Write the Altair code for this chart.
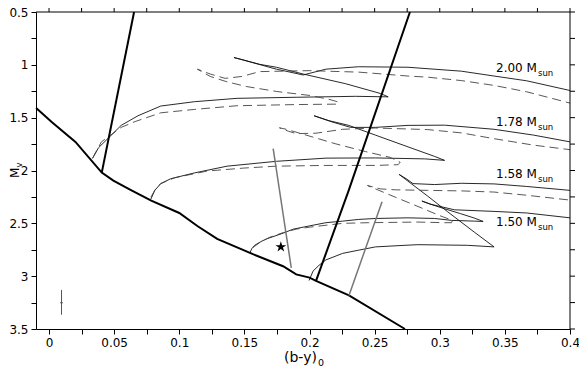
import altair as alt
import pandas as pd

# ---------------- data ----------------
T200s_x = [0.0334, 0.038, 0.0456, 0.0554, 0.0683, 0.0858, 0.1116, 0.1443, 0.1898, 0.2354, 0.2604, 0.2544, 0.2278, 0.1951, 0.1746, 0.1617, 0.1481, 0.142, 0.1557, 0.1746, 0.1951, 0.2126, 0.2377, 0.2756, 0.3166, 0.3417, 0.3667, 0.4]
T200s_y = [1.885, 1.784, 1.693, 1.573, 1.482, 1.39, 1.349, 1.317, 1.307, 1.298, 1.303, 1.271, 1.179, 1.087, 1.023, 0.995, 0.95, 0.931, 0.977, 1.041, 1.096, 1.041, 1.018, 1.023, 1.06, 1.106, 1.151, 1.243]

T178s_x = [0.0782, 0.0812, 0.0858, 0.0934, 0.1116, 0.1367, 0.1746, 0.2126, 0.2506, 0.2885, 0.3037, 0.2961, 0.2733, 0.2506, 0.2301, 0.2149, 0.2035, 0.2164, 0.2316, 0.2506, 0.2756, 0.3037, 0.3417, 0.372, 0.4]
T178s_y = [2.271, 2.188, 2.124, 2.078, 2.023, 1.959, 1.913, 1.883, 1.881, 1.89, 1.904, 1.867, 1.766, 1.665, 1.573, 1.528, 1.482, 1.537, 1.592, 1.592, 1.573, 1.571, 1.61, 1.665, 1.729]

T158s_x = [0.1541, 0.1557, 0.1579, 0.1625, 0.167, 0.18, 0.1875, 0.1997, 0.2126, 0.2255, 0.2377, 0.2506, 0.2756, 0.2961, 0.309, 0.3265, 0.3333, 0.3265, 0.3159, 0.3037, 0.2946, 0.2863, 0.2923, 0.2984, 0.3113, 0.3417, 0.3667, 0.4]
T158s_y = [2.784, 2.739, 2.708, 2.674, 2.647, 2.592, 2.555, 2.525, 2.494, 2.479, 2.463, 2.454, 2.448, 2.454, 2.472, 2.479, 2.482, 2.45, 2.408, 2.362, 2.326, 2.289, 2.317, 2.335, 2.372, 2.387, 2.402, 2.448]

T150s_x = [0.1997, 0.2027, 0.2073, 0.2126, 0.2255, 0.2377, 0.2506, 0.2733, 0.2832, 0.3212, 0.3417, 0.3265, 0.306, 0.2908, 0.2771, 0.2688, 0.2749, 0.2794, 0.2961, 0.3166, 0.3417, 0.3667, 0.4]
T150s_y = [3.041, 2.952, 2.897, 2.846, 2.784, 2.754, 2.723, 2.708, 2.702, 2.708, 2.723, 2.583, 2.39, 2.243, 2.115, 2.037, 2.083, 2.124, 2.133, 2.121, 2.127, 2.151, 2.188]

T200d_x = [0.0334, 0.0402, 0.0554, 0.0661, 0.0858, 0.1116, 0.1443, 0.1898, 0.2202, 0.2225, 0.2149, 0.1997, 0.1746, 0.1519, 0.1367, 0.1238, 0.1139, 0.1238, 0.1352, 0.1481, 0.1617, 0.1997, 0.2377, 0.2756, 0.2908, 0.3166, 0.3417, 0.3667, 0.4]
T200d_y = [1.885, 1.729, 1.592, 1.537, 1.454, 1.422, 1.387, 1.376, 1.372, 1.353, 1.326, 1.289, 1.252, 1.206, 1.161, 1.11, 1.041, 1.087, 1.128, 1.11, 1.064, 1.055, 1.069, 1.106, 1.117, 1.149, 1.195, 1.255, 1.362]

T178d_x = [0.0782, 0.082, 0.0858, 0.0964, 0.1215, 0.1496, 0.1746, 0.2126, 0.2506, 0.268, 0.2696, 0.262, 0.243, 0.2202, 0.1974, 0.1822, 0.1769, 0.1837, 0.1898, 0.205, 0.2255, 0.2506, 0.2756, 0.2908, 0.3166, 0.3417, 0.372, 0.4]
T178d_y = [2.252, 2.17, 2.124, 2.069, 2.005, 1.977, 1.959, 1.952, 1.952, 1.945, 1.922, 1.876, 1.821, 1.748, 1.665, 1.61, 1.596, 1.628, 1.651, 1.647, 1.61, 1.598, 1.607, 1.613, 1.644, 1.699, 1.76, 1.803]

T158d_x = [0.1565, 0.1617, 0.1693, 0.18, 0.1898, 0.1997, 0.2126, 0.2255, 0.2453, 0.2832, 0.3037, 0.309, 0.3098, 0.2999, 0.2863, 0.2658, 0.2506, 0.2445, 0.2544, 0.2658, 0.2908, 0.3166, 0.3417, 0.3667, 0.4]
T158d_y = [2.729, 2.683, 2.633, 2.587, 2.555, 2.537, 2.518, 2.5, 2.494, 2.488, 2.494, 2.494, 2.472, 2.427, 2.356, 2.252, 2.174, 2.142, 2.174, 2.183, 2.188, 2.193, 2.204, 2.234, 2.28]

ZAMS_x = [-0.0099, 0.0025, 0.0203, 0.0405, 0.0494, 0.0633, 0.0785, 0.1, 0.1139, 0.1291, 0.157, 0.1797, 0.1898, 0.2, 0.205, 0.2303, 0.2733]
ZAMS_y = [1.408, 1.546, 1.729, 2.02, 2.096, 2.188, 2.286, 2.402, 2.525, 2.647, 2.794, 2.906, 2.983, 3.014, 3.044, 3.182, 3.5]
BLUE_x = [0.0405, 0.0653]
BLUE_y = [2.02, 0.5]
RED_x = [0.205, 0.2301, 0.2771]
RED_y = [3.044, 2.188, 0.5]

G1_x = [0.1721, 0.186]
G1_y = [1.794, 2.922]
G2_x = [0.2557, 0.2303]
G2_y = [2.295, 3.182]

STAR_x = [0.178]
STAR_y = [2.723]
ERR_x = [0.0096]
ERR_lo = [3.13]
ERR_hi = [3.365]
ERR_mid = [3.252]
ERR_tick_lo = [0.0085]
ERR_tick_hi = [0.0107]

LAB_text = ["2.00 M", "1.78 M", "1.58 M", "1.50 M"]
LAB_x = [0.3432, 0.3432, 0.3432, 0.3432]
LAB_y = [1.072, 1.583, 2.072, 2.525]

X_TICKS = [0, 0.025, 0.05, 0.075, 0.1, 0.125, 0.15, 0.175, 0.2, 0.225, 0.25, 0.275, 0.3, 0.325, 0.35, 0.375, 0.4]
Y_TICKS = [0.5, 0.75, 1.0, 1.25, 1.5, 1.75, 2.0, 2.25, 2.5, 2.75, 3.0, 3.25, 3.5]

STAR_PATH = ("M0,-1L0.2245,-0.309L0.951,-0.309L0.3633,0.118L0.588,0.809L0,0.382"
             "L-0.588,0.809L-0.3633,0.118L-0.951,-0.309L-0.2245,-0.309Z")


def frame(name, xs, ys):
    return pd.DataFrame({"series": name, "i": list(range(len(xs))), "bx": xs, "mv": ys})


solid = pd.concat([frame("a200", T200s_x, T200s_y), frame("a178", T178s_x, T178s_y),
                   frame("a158", T158s_x, T158s_y), frame("a150", T150s_x, T150s_y)], ignore_index=True)
dashed = pd.concat([frame("b200", T200d_x, T200d_y), frame("b178", T178d_x, T178d_y),
                    frame("b158", T158d_x, T158d_y)], ignore_index=True)
thick = pd.concat([frame("zams", ZAMS_x, ZAMS_y), frame("blue", BLUE_x, BLUE_y), frame("red", RED_x, RED_y)],
                  ignore_index=True)
gray = pd.concat([frame("g1", G1_x, G1_y), frame("g2", G2_x, G2_y)], ignore_index=True)
star = pd.DataFrame({"bx": STAR_x, "mv": STAR_y})
err = pd.DataFrame({"bx": ERR_x, "lo": ERR_lo, "hi": ERR_hi, "mid": ERR_mid, "t0": ERR_tick_lo, "t1": ERR_tick_hi})
labels = pd.DataFrame({"text": LAB_text, "bx": LAB_x, "mv": LAB_y})
xticks_df = pd.DataFrame({"bx": X_TICKS})
yticks_df = pd.DataFrame({"mv": Y_TICKS})
one = pd.DataFrame({"a": [0]})

FONT = "DejaVu Sans"
W, H = 534, 317
xscale = alt.Scale(domain=[-0.01, 0.4], nice=False, zero=False)
yscale = alt.Scale(domain=[0.5, 3.5], reverse=True, nice=False, zero=False)

x_axis = alt.Axis(orient="bottom", values=X_TICKS, format="~g", labelOverlap=False, labelFlush=False,
                  labelExpr="round(datum.value*40) % 2 == 0 ? datum.label : ''", labelPadding=3,
                  grid=False, title=None, tickSize=5, tickColor="black", domainColor="black",
                  labelColor="black", labelFont=FONT, labelFontSize=12)
y_axis = alt.Axis(orient="left", values=Y_TICKS, format="~g", labelOverlap=False, labelFlush=False,
                  labelExpr="round(datum.value*4) % 2 == 0 ? datum.label : ''", labelPadding=3,
                  grid=False, title=None, tickSize=5, tickColor="black", domainColor="black",
                  labelColor="black", labelFont=FONT, labelFontSize=12)


def XF(field):
    return alt.X(field, type="quantitative", scale=xscale, axis=x_axis)


def YF(field):
    return alt.Y(field, type="quantitative", scale=yscale, axis=y_axis)


solid_layer = alt.Chart(solid).mark_line(color="#111", strokeWidth=0.9).encode(
    x=XF("bx"), y=YF("mv"), detail="series:N", order="i:Q")

dashed_layer = alt.Chart(dashed).mark_line(color="#444", strokeWidth=0.9, strokeDash=[9, 5]).encode(
    x=XF("bx"), y=YF("mv"), detail="series:N", order="i:Q")

thick_layer = alt.Chart(thick).mark_line(color="black", strokeWidth=2).encode(
    x=XF("bx"), y=YF("mv"), detail="series:N", order="i:Q")

gray_layer = alt.Chart(gray).mark_line(color="#777", strokeWidth=1.5).encode(
    x=XF("bx"), y=YF("mv"), detail="series:N", order="i:Q")

err_v = alt.Chart(err).mark_rule(color="#555", strokeWidth=1).encode(
    x=XF("bx"), y=YF("lo"), y2="hi:Q")
err_h = alt.Chart(err).mark_rule(color="#555", strokeWidth=1).encode(
    x=XF("t0"), x2="t1:Q", y=YF("mid"))

star_layer = alt.Chart(star).mark_point(shape=STAR_PATH, filled=True, size=130, color="black",
                                         opacity=1).encode(x=XF("bx"), y=YF("mv"))

top_ticks = alt.Chart(xticks_df).mark_rule(color="black", strokeWidth=1).encode(
    x=XF("bx"), y=alt.value(0), y2=alt.value(-5))
right_ticks = alt.Chart(yticks_df).mark_rule(color="black", strokeWidth=1).encode(
    y=YF("mv"), x=alt.value(W), x2=alt.value(W + 5))
top_line = alt.Chart(one).mark_rule(color="black", strokeWidth=1).encode(
    x=alt.value(0), x2=alt.value(W), y=alt.value(0))
right_line = alt.Chart(one).mark_rule(color="black", strokeWidth=1).encode(
    x=alt.value(W), y=alt.value(0), y2=alt.value(H))

lab_layer = alt.Chart(labels).mark_text(align="left", baseline="alphabetic", font=FONT, fontSize=12,
                                         color="black").encode(x=XF("bx"), y=YF("mv"), text="text:N")
sub_layer = alt.Chart(labels).mark_text(align="left", baseline="alphabetic", font=FONT, fontSize=8.5,
                                         color="black", dx=42, dy=4).encode(x=XF("bx"), y=YF("mv"),
                                                                            text=alt.value("sun"))

xt_main = alt.Chart(one).mark_text(align="left", baseline="alphabetic", font=FONT, fontSize=14,
                                   color="black").encode(x=alt.value(248), y=alt.value(350), text=alt.value("(b-y)"))
xt_sub = alt.Chart(one).mark_text(align="left", baseline="alphabetic", font=FONT, fontSize=9.5,
                                  color="black").encode(x=alt.value(282), y=alt.value(354), text=alt.value("0"))
yt_main = alt.Chart(one).mark_text(align="left", baseline="alphabetic", font=FONT, fontSize=12, angle=270,
                                   color="black").encode(x=alt.value(-17), y=alt.value(166), text=alt.value("M"))
yt_sub = alt.Chart(one).mark_text(align="left", baseline="alphabetic", font=FONT, fontSize=8.5, angle=270,
                                  color="black").encode(x=alt.value(-14), y=alt.value(155.5), text=alt.value("v"))

chart = alt.layer(
    solid_layer, dashed_layer, thick_layer, gray_layer, err_v, err_h, star_layer,
    top_ticks, right_ticks, top_line, right_line,
    lab_layer, sub_layer, xt_main, xt_sub, yt_main, yt_sub,
).properties(
    width=W, height=H, background="white",
    autosize=alt.AutoSizeParams(type="none"),
    padding={"left": 28, "top": 4, "right": 9, "bottom": 38},
).configure_view(strokeWidth=0)

chart.save("out.html", embed_options={"renderer": "svg", "actions": False})
